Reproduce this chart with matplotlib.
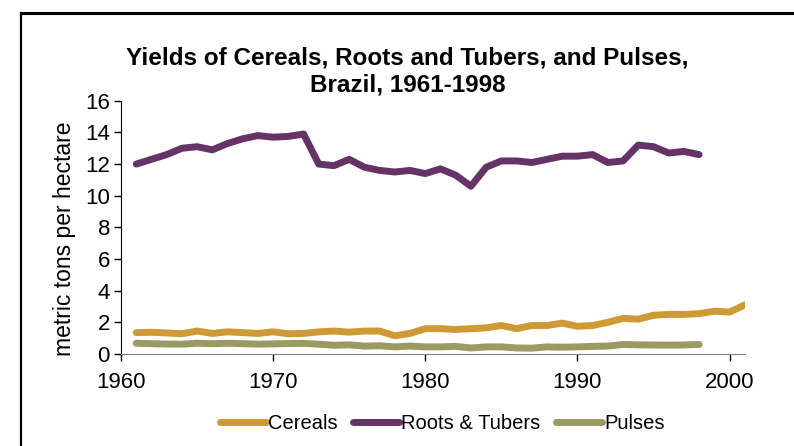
import numpy as np
import matplotlib
matplotlib.use("Agg")
import matplotlib.pyplot as plt
from matplotlib.lines import Line2D

plt.rcParams["font.family"] = ["Liberation Sans", "DejaVu Sans"]

years_rt = list(range(1961, 1999))
years_cer = list(range(1961, 2002))

cereals = [1.35, 1.37, 1.33, 1.28, 1.45, 1.30, 1.40, 1.35, 1.30, 1.40,
           1.28, 1.30, 1.40, 1.45, 1.38, 1.45, 1.45, 1.15, 1.30, 1.60,
           1.60, 1.55, 1.60, 1.65, 1.80, 1.60, 1.80, 1.80, 1.95, 1.75,
           1.80, 2.00, 2.25, 2.20, 2.45, 2.50, 2.50, 2.55, 2.70, 2.65, 3.10]

roots = [12.0, 12.3, 12.6, 13.0, 13.1, 12.9, 13.3, 13.6, 13.8, 13.7,
         13.75, 13.9, 12.0, 11.9, 12.3, 11.8, 11.6, 11.5, 11.6, 11.4,
         11.7, 11.3, 10.6, 11.8, 12.2, 12.2, 12.1, 12.3, 12.5, 12.5,
         12.6, 12.1, 12.2, 13.2, 13.1, 12.7, 12.8, 12.6]

pulses = [0.68, 0.65, 0.63, 0.62, 0.68, 0.65, 0.68, 0.65, 0.62, 0.64,
          0.66, 0.67, 0.62, 0.55, 0.58, 0.50, 0.52, 0.45, 0.50, 0.45,
          0.45, 0.48, 0.38, 0.45, 0.45, 0.38, 0.37, 0.45, 0.43, 0.45,
          0.48, 0.50, 0.60, 0.58, 0.57, 0.56, 0.57, 0.60]

c_cer = "#cf9a35"
c_rt = "#663366"
c_pul = "#9b9a63"

fig = plt.figure(figsize=(7.94, 4.46), dpi=100)
ax = fig.add_axes([0.1524, 0.2063, 0.7856, 0.5677])

lw = 5.0
ax.plot(years_cer, cereals, color=c_cer, lw=lw, solid_capstyle="round", solid_joinstyle="round")
ax.plot(years_rt, roots, color=c_rt, lw=lw, solid_capstyle="round", solid_joinstyle="round")
ax.plot(years_rt, pulses, color=c_pul, lw=lw, solid_capstyle="round", solid_joinstyle="round")

ax.set_xlim(1960, 2001)
ax.set_ylim(0, 16)
ax.set_xticks(range(1960, 2001, 10))
ax.set_yticks(range(0, 17, 2))
ax.tick_params(direction="out", length=5, width=1, labelsize=16, color="black", pad=3)
ax.tick_params(axis="x", pad=8)
for s in ["top", "right"]:
    ax.spines[s].set_visible(False)
ax.spines["left"].set_color("black")
ax.spines["bottom"].set_color("#808080")
ax.set_ylabel("metric tons per hectare", fontsize=16.5)
ax.yaxis.set_label_coords(-0.072, 0.457)

fig.text(0.513, 0.84, "Yields of Cereals, Roots and Tubers, and Pulses,\nBrazil, 1961-1998",
         ha="center", va="center", fontsize=17.5, fontweight="bold", linespacing=1.25)

handles = [Line2D([], [], color=c, lw=lw, solid_capstyle="round") for c in (c_cer, c_rt, c_pul)]
fig.legend(handles, ["Cereals", "Roots & Tubers", "Pulses"], loc="center",
           bbox_to_anchor=(0.557, 0.05), ncol=3, frameon=False, fontsize=14.5,
           handlelength=2.3, handletextpad=0.1, columnspacing=0.75)

# outer frame (only left and top visible in the crop)
fig.add_artist(Line2D([21 / 794, 21 / 794], [0, 1 - 13 / 446], color="black", lw=1.6,
                      transform=fig.transFigure))
fig.add_artist(Line2D([21 / 794, 1], [1 - 13 / 446, 1 - 13 / 446], color="black", lw=2.2,
                      transform=fig.transFigure))

fig.savefig("out.png", dpi=100)
